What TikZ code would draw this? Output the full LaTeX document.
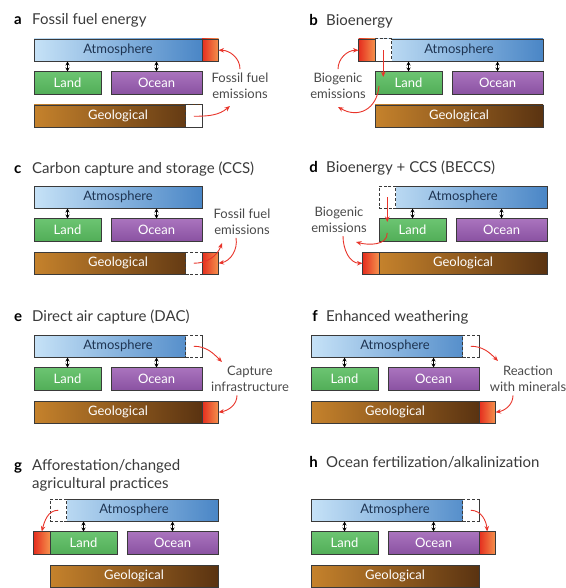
\documentclass[tikz,border=0pt]{standalone}
\usepackage{fontspec}
\setmainfont{Lato}
\usetikzlibrary{arrows.meta}

\definecolor{atmlight}{HTML}{C6E2F7}
\definecolor{atmdark}{HTML}{4A86C6}
\definecolor{landtop}{HTML}{6CC572}
\definecolor{landbot}{HTML}{52AE58}
\definecolor{oceantop}{HTML}{AA74BE}
\definecolor{oceanbot}{HTML}{8A52A2}
\definecolor{geolight}{HTML}{C5822C}
\definecolor{geodark}{HTML}{5A3311}
\definecolor{redleft}{HTML}{E42D1E}
\definecolor{redright}{HTML}{F5914C}
\definecolor{fluxred}{HTML}{E8342A}
\definecolor{boxline}{HTML}{3A3A3A}
\definecolor{atmtext}{HTML}{1E3452}
\definecolor{labeltext}{HTML}{4A4A4A}
\definecolor{titletext}{HTML}{3A3A3A}

\begin{document}
\begin{tikzpicture}[x=1pt,y=1pt,
    pool/.style={draw=boxline,line width=0.8pt,anchor=north west,inner sep=0pt,outer sep=0pt,
      minimum height=22.5pt,font=\fontsize{13}{13}\selectfont,text=white},
    atmbox/.style={pool,minimum width=168pt,left color=atmlight,right color=atmdark,text=atmtext},
    landbox/.style={pool,minimum width=67pt,top color=landtop,bottom color=landbot},
    oceanbox/.style={pool,minimum width=91pt,top color=oceantop,bottom color=oceanbot},
    geobox/.style={pool,minimum width=168pt,left color=geolight,right color=geodark},
    gapbox/.style={draw=boxline,dash pattern=on 3pt off 1.8pt,line width=1pt,fill=white,
      anchor=north west,inner sep=0pt,outer sep=0pt,minimum width=16.5pt,minimum height=22.5pt},
    fluxbox/.style={pool,minimum width=16.5pt,left color=redleft,right color=redright},
    exchange/.style={{Stealth[length=4pt,width=4pt]}-{Stealth[length=4pt,width=4pt]},line width=0.8pt,black},
    cdr/.style={-{Stealth[length=5.5pt,width=4.5pt]},draw=fluxred,line width=0.9pt},
    sidenote/.style={align=center,text=labeltext,font=\fontsize{13}{16}\selectfont},
    panelletter/.style={anchor=base west,inner sep=0pt,text=black,font=\fontsize{15}{18}\selectfont\bfseries},
    paneltitle/.style={anchor=base west,inner sep=0pt,text=titletext,font=\fontsize{15}{18}\selectfont}]

  \useasboundingbox (0,0) rectangle (565,-588);

  % the four reservoirs of every panel
  \foreach \p/\dx/\dy in {a/0/0,b/341/0,c/0/147,d/345/147,e/0/296,f/277/296,g/16/460,h/277/460}{
    \begin{scope}[shift={(\dx,-\dy)}]
      \node[atmbox] (atm\p) at (34,-39) {Atmosphere};
      \node[landbox] (land\p) at (34,-71.5) {Land};
      \node[oceanbox] (ocean\p) at (111,-71.5) {Ocean};
      \node[geobox] (geo\p) at (34,-105) {Geological};
      \draw[exchange] (atm\p.south -| land\p.north) -- (land\p.north);
      \draw[exchange] (atm\p.south -| ocean\p.north) -- (ocean\p.north);
    \end{scope}
  }

  % titles
  \node[panelletter] (lettera) at (14,-25) {a};
  \node[paneltitle] (titlea) at (32,-25) {Fossil fuel energy};
  \node[panelletter,anchor=base east] (letterb) at (318,-25.5) {b};
  \node[paneltitle] (titleb) at (326,-25.5) {Bioenergy};
  \node[panelletter] (letterc) at (14,-173.3) {c};
  \node[paneltitle] (titlec) at (32,-173.3) {Carbon capture and storage (CCS)};
  \node[panelletter,anchor=base east] (letterd) at (318,-172.7) {d};
  \node[paneltitle] (titled) at (326,-172.7) {Bioenergy + CCS (BECCS)};
  \node[panelletter] (lettere) at (14,-321) {e};
  \node[paneltitle] (titlee) at (32,-321) {Direct air capture (DAC)};
  \node[panelletter,anchor=base east] (letterf) at (318,-321.7) {f};
  \node[paneltitle] (titlef) at (326,-321.7) {Enhanced weathering};
  \node[panelletter] (letterg) at (14,-470) {g};
  \node[paneltitle] (titleg) at (32,-470) {Afforestation/changed};
  \node[paneltitle] (titlegg) at (32,-488) {agricultural practices};
  \node[panelletter,anchor=base east] (letterh) at (318,-467.7) {h};
  \node[paneltitle] (titleh) at (326,-467.7) {Ocean fertilization/alkalinization};

  % a: fossil fuel energy
  \node[fluxbox] (fluxa) at (atma.north east) {};
  \node[gapbox,anchor=north east] (gapa) at (geoa.north east) {};
  \node[sidenote] (notea) at (240,-85.5) {Fossil fuel\\emissions};
  \coordinate (tipa) at (230,-106);
  \draw[cdr] (notea.north) to[out=90,in=0] (fluxa.east);
  \draw[cdr] (gapa.center) to[out=0,in=-140] (tipa);

  % b: bioenergy
  \node[gapbox] (gapb) at (atmb.north west) {};
  \node[fluxbox,anchor=north east] (fluxb) at (atmb.north west) {};
  \node[sidenote] (noteb) at (338,-85.5) {Biogenic\\emissions};
  \coordinate (sinkb) at (383.25,-77);
  \coordinate (releaseb) at (379,-86);
  \coordinate (tipb) at (338,-107);
  \draw[cdr] (noteb.north) to[out=90,in=180] (fluxb.west);
  \draw[cdr] (gapb.center) -- (sinkb);
  \draw[cdr] (releaseb) to[out=-95,in=-30,looseness=1.3] (tipb);

  % c: CCS
  \node[gapbox,anchor=north east] (gapc) at (geoc.north east) {};
  \node[fluxbox] (fluxc) at (geoc.north east) {};
  \node[sidenote] (notec) at (242,-221.5) {Fossil fuel\\emissions};
  \coordinate (tipc) at (222,-243);
  \draw[cdr] (gapc.center) to[out=0,in=-110] (tipc);
  \draw[cdr] ([xshift=-6pt]notec.south) to[out=-80,in=10] (fluxc.east);

  % d: BECCS
  \node[gapbox] (gapd) at (atmd.north west) {};
  \node[fluxbox,anchor=north east] (fluxd) at (geod.north west) {};
  \node[sidenote] (noted) at (339,-219.7) {Biogenic\\emissions};
  \coordinate (sinkd) at (387.25,-222);
  \coordinate (released) at (387.25,-233);
  \coordinate (tipd) at (356,-242);
  \draw[cdr] (gapd.center) -- (sinkd);
  \draw[cdr] (released) to[out=-90,in=-15] (tipd);
  \draw[cdr] ([xshift=4pt]noted.south) to[out=-90,in=180] (fluxd.west);

  % e: DAC
  \node[gapbox,anchor=north east] (gape) at (atme.north east) {};
  \node[fluxbox] (fluxe) at (geoe.north east) {};
  \node[sidenote] (notee) at (250,-379) {Capture\\infrastructure};
  \coordinate (tipe) at (222,-362);
  \draw[cdr] (gape.center) to[out=0,in=135] (tipe);
  \draw[cdr] ([xshift=-13pt]notee.south) to[out=-90,in=10] (fluxe.east);

  % f: enhanced weathering
  \node[gapbox,anchor=north east] (gapf) at (atmf.north east) {};
  \node[fluxbox] (fluxf) at (geof.north east) {};
  \node[sidenote] (notef) at (528,-379) {Reaction\\with minerals};
  \coordinate (tipf) at (498,-361);
  \draw[cdr] (gapf.center) to[out=0,in=135] (tipf);
  \draw[cdr] ([xshift=-15pt]notef.south) to[out=-90,in=10] (fluxf.east);

  % g: afforestation
  \node[gapbox] (gapg) at (atmg.north west) {};
  \node[fluxbox,anchor=north east] (fluxg) at (landg.north west) {};
  \draw[cdr] (gapg.center) to[out=180,in=75] (fluxg.north);

  % h: ocean fertilization
  \node[gapbox,anchor=north east] (gaph) at (atmh.north east) {};
  \node[fluxbox] (fluxh) at (oceanh.north east) {};
  \draw[cdr] (gaph.center) to[out=0,in=95] (fluxh.north);
\end{tikzpicture}
\end{document}
